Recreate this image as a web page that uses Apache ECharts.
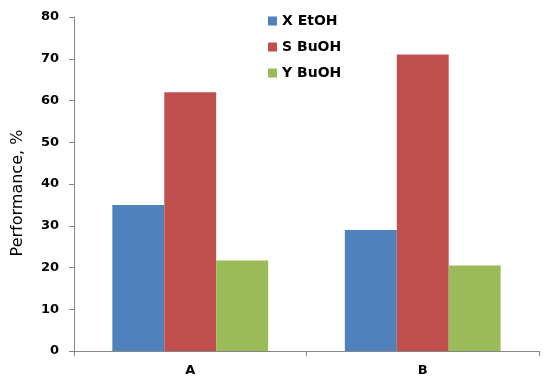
<!DOCTYPE html>
<html><head><meta charset="utf-8">
<script src="https://cdn.jsdelivr.net/npm/echarts@6/dist/echarts.min.js"></script>
<style>html,body{margin:0;padding:0;background:#fff}#c{width:550px;height:382px}</style>
</head><body><div id="c"></div>
<script>
var categories = ['A', 'B'];
var xEtOH = [35, 29];
var sBuOH = [62, 71];
var yBuOH = [21.7, 20.5];
var seriesNames = ['X EtOH', 'S BuOH', 'Y BuOH'];
var colors = ['#4F81BD', '#C0504D', '#9BBB59'];
var yTicks = {min: 0, max: 80, interval: 10};

var chart = echarts.init(document.getElementById('c'));
var font = 'DejaVu Sans';
chart.setOption({
  animation: false,
  color: colors,
  grid: {left: 74, right: 11, top: 17, bottom: 31},
  legend: {
    orient: 'vertical', left: 263, top: 9, itemWidth: 9, itemHeight: 9, itemGap: 12,
    icon: 'rect',
    textStyle: {fontFamily: font, fontWeight: 'bold', fontSize: 14, color: '#000'},
    data: seriesNames
  },
  xAxis: {
    type: 'category', data: categories,
    axisLine: {lineStyle: {color: '#868686'}},
    axisTick: {show: true, length: 5, lineStyle: {color: '#868686'}},
    axisLabel: {fontFamily: font, fontWeight: 'bold', fontSize: 13, color: '#000', margin: 13}
  },
  yAxis: {
    type: 'value', min: yTicks.min, max: yTicks.max, interval: yTicks.interval,
    name: 'Performance, %', nameLocation: 'middle', nameGap: 48, nameRotate: 90,
    nameTextStyle: {fontFamily: font, fontSize: 16, color: '#000', padding: [0, 18, 0, 0]},
    splitLine: {show: false},
    axisLine: {show: true, lineStyle: {color: '#868686'}},
    axisTick: {show: true, length: 5, lineStyle: {color: '#868686'}},
    axisLabel: {fontFamily: font, fontWeight: 'bold', fontSize: 13, color: '#000', margin: 15}
  },
  series: [
    {name: seriesNames[0], type: 'bar', data: xEtOH, barGap: '0%', barCategoryGap: '33%'},
    {name: seriesNames[1], type: 'bar', data: sBuOH, barGap: '0%', barCategoryGap: '33%'},
    {name: seriesNames[2], type: 'bar', data: yBuOH, barGap: '0%', barCategoryGap: '33%'}
  ]
});
</script></body></html>
